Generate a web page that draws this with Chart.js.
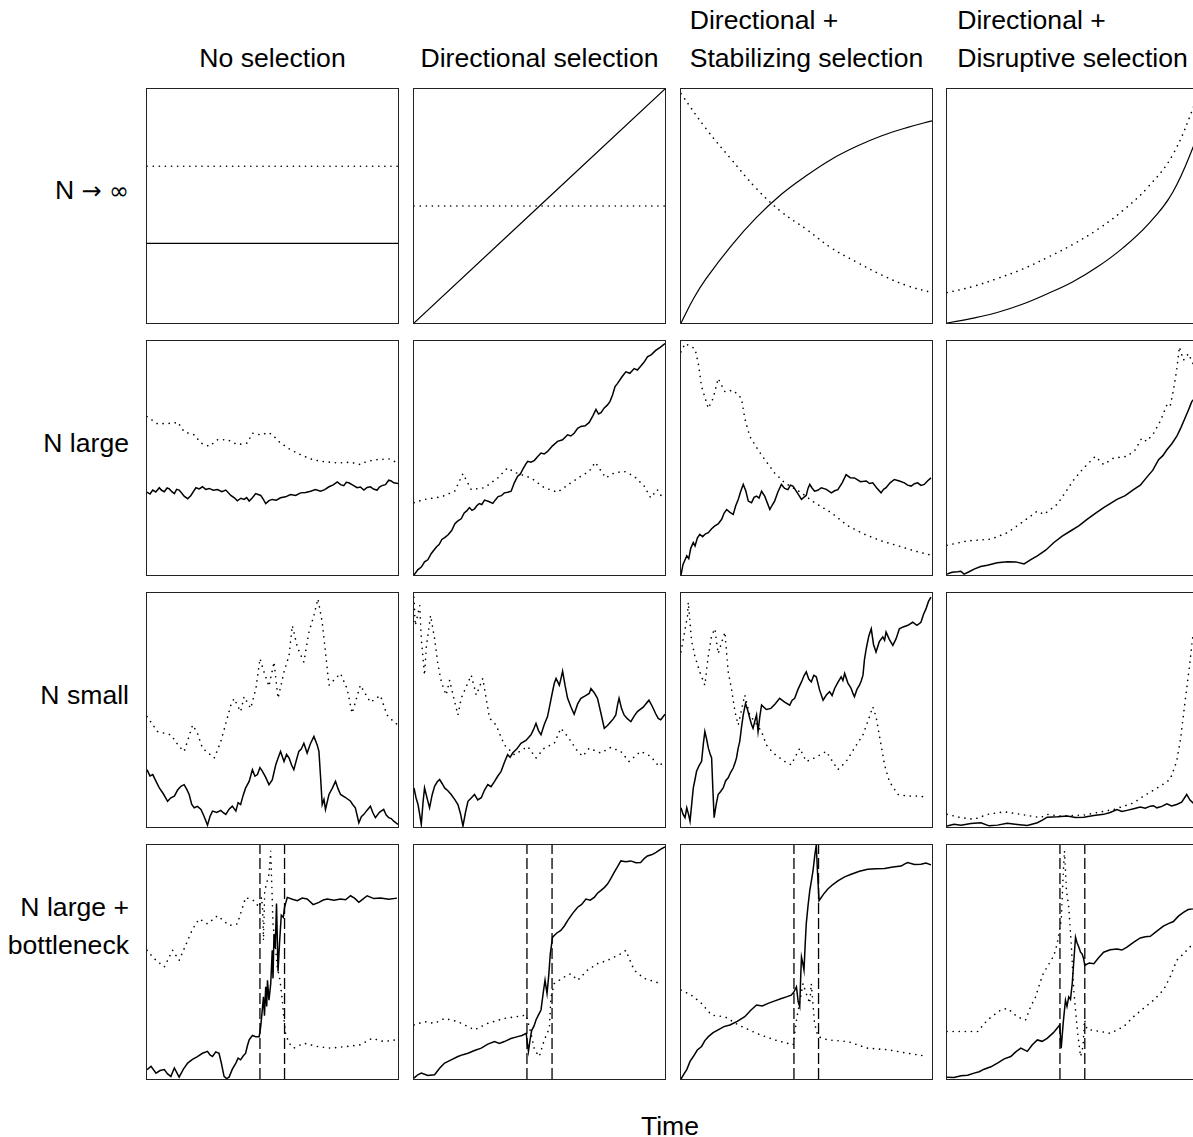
<!DOCTYPE html>
<html>
<head>
<meta charset="utf-8">
<script src="https://cdn.jsdelivr.net/npm/chart.js@4.4.1/dist/chart.umd.min.js"></script>
<style>
  body { margin: 0; width: 1193px; height: 1137px; overflow: hidden; background: #fff; position: relative;
         font-family: "Liberation Sans", Arial, Helvetica, sans-serif; color: #000; }
  .panel { position: absolute; box-sizing: border-box; border: 1px solid #222; width: 253px; height: 236px; }
  .panel canvas { display: block; }
  .txt { position: absolute; font-size: 26.6px; line-height: 38px; white-space: nowrap; }
  .sym { font-family: "DejaVu Sans", sans-serif; font-size: 24px; }
</style>
</head>
<body>
<script>
// values: x = time (0-100), y = relative trait value (0-100); solid = mean, dotted = variance
const colTitles = [['No selection'], ['Directional selection'], ['Directional +', 'Stabilizing selection'], ['Directional +', 'Disruptive selection']];
const rowTitles = [['N <span class="sym">\u2192</span> <span class="sym">\u221e</span>'], ['N large'], ['N small'], ['N large +', 'bottleneck']];
const rowTitleCenter = [190, 443, 695, 926];
const xLabel = 'Time';

// row 1: N -> infinity
const inf_none_solid = [[0,34],[100,34]];
const inf_none_dot = [[0,67],[100,67]];
const inf_dir_solid = [[0,0],[100,100]];
const inf_dir_dot = [[0,50],[100,50]];
const inf_stab_solid = [[0,0],[5,10.5],[10,19],[20,33],[30,45],[40,55],[50,63],[60,70],[70,75.5],[80,80],[90,83.5],[100,86.4]];
const inf_stab_dot = [[0,98],[10,83],[20,70],[30,57.5],[40,47.5],[50,40],[60,32],[70,26],[80,20.5],[90,16],[100,13]];
const inf_disr_solid = [[0,0],[10,2],[20,4.5],[30,8],[40,12.5],[50,17.5],[60,24],[70,32],[80,42],[90,56],[100,80]];
const inf_disr_dot = [[0,13],[10,15.5],[20,19],[30,23],[40,28],[50,33.5],[60,40],[70,48],[80,58],[90,72],[100,97]];

// row 2: N large
const large_none_solid = [[0,35.4],[1.2,34.6],[2.3,36.3],[3.5,35.5],[4.9,37.3],[5.8,36.2],[6.9,35.6],[8,37.2],[8.9,36.8],[9.9,35.6],[10.9,34.8],[11.8,36.6],[12.8,36.3],[13.8,35],[14.8,33.7],[16.2,32.6],[17.5,34],[18.4,35.5],[19.5,37.3],[20.8,36.8],[22.1,37.7],[23.4,36.6],[24.8,37],[26.4,36.2],[28.1,36.5],[29.8,35.6],[31.4,36.3],[33.4,34],[34.8,33],[36,31.7],[37.4,32.8],[38.7,32.3],[39.7,33.1],[40.7,31.6],[42,33],[43.3,34.8],[45.3,34],[46.3,32.4],[47.3,30.5],[48.6,31.8],[49.9,32.3],[51.5,32],[53.2,33],[55.2,33.4],[57.2,34.4],[59.2,34],[61.2,35.1],[63.2,35.3],[65.2,35.8],[67.1,36.5],[69.1,35.8],[70.8,36.5],[72.5,37.7],[74.2,38.5],[75.8,39.8],[77.1,38.6],[78.4,38.2],[79.4,39.6],[80.4,39.4],[82,38.4],[83.7,37.3],[85,37.6],[86.4,36.3],[87.7,37.4],[89,37.7],[90.4,36.6],[91.7,36.3],[92.6,37.6],[93.6,38.2],[95,38.6],[96.3,40.5],[97.3,40.2],[98.3,39.4],[100,39.1]];
const large_none_dot = [[0,67.7],[4.2,64.6],[10.9,64.9],[12.2,65.4],[14.8,61.2],[18.8,59.9],[21.5,56.4],[24.8,55],[28.1,57.8],[32.1,57.8],[36,55.7],[40,56.4],[42,60.6],[45.3,59.9],[48.6,60.9],[50.6,59.2],[53.2,56.4],[57.2,53.5],[61.2,51.4],[65.2,49.6],[69.1,48.6],[75.8,47.9],[81.1,48.2],[85,47.2],[87.7,48.6],[91.7,49.3],[96.9,49.6],[99.6,47.9]];
const large_dir_solid = [[0,0],[1.5,2.2],[3,3.5],[4.2,5.6],[5.5,6.5],[6.9,9.2],[8.2,11],[9.1,12.2],[10,13],[11.1,15.2],[12.2,16],[13.6,17.2],[15,19],[16.3,21.9],[17.5,23.1],[18.8,24],[20,26.5],[21,27.4],[22.1,28.8],[23.1,27.6],[24.1,28.2],[25,29.6],[26,30.5],[27,30.1],[28.1,32],[29.8,31.4],[31.4,30.6],[32.5,32.2],[33.5,33.5],[34.8,33.9],[36,35.1],[37.4,35.4],[38.7,35.8],[40,39.5],[41.3,42.2],[42.4,43.2],[43.5,45.5],[44.4,47.2],[45.3,48.6],[46.6,48.2],[48,49],[49.3,50.6],[50.6,52.1],[51.9,51.7],[53.2,52.8],[55.2,55.2],[57.2,57.1],[59.2,57.8],[61.2,59.9],[62.5,59.4],[63.8,60.6],[65.2,62.7],[66.5,63.5],[68.2,63.8],[69.8,65.2],[71.2,67.9],[72.5,70.8],[73.5,68.8],[74.5,69.4],[75.8,71.4],[77.1,72.7],[78.1,74.2],[79.1,76.9],[80.1,80.5],[81.1,81.9],[82.8,84.6],[84.4,86.8],[86,86.2],[87.7,88.2],[89,87.6],[90.3,89.2],[91.7,91],[93,93.2],[94.6,94.2],[96.3,96],[98.1,97.3],[100,98.9]];
const large_dir_dot = [[0,30.9],[4.2,32.3],[10.9,33.4],[16.2,35.8],[19.5,43.3],[22.8,36.5],[28.1,37.3],[33.4,41.5],[37.3,45.8],[40,43.9],[46.6,41.5],[51.9,37.3],[57.2,35.4],[62.5,39.4],[66.5,42.2],[69.8,44.3],[72.2,48.2],[76.4,41.5],[79.7,43.6],[83.7,44.3],[87.7,42.2],[91.7,38],[94.3,33],[96.9,36.5],[99.6,32]];
const large_stab_solid = [[0,0],[0.8,4.5],[1.5,6.2],[2.3,8.2],[3.1,7],[3.9,11.5],[4.9,13.9],[5.6,12.4],[6.5,15.8],[7.5,17.4],[8.6,16.4],[9.8,17.6],[10.9,18.1],[12.2,19.8],[13.5,21],[14.8,21.8],[16.2,23.8],[17.2,26.5],[18.2,28],[19.5,26.8],[20.8,25.9],[21.8,29.6],[22.8,32.3],[23.8,35.8],[24.8,38.7],[25.8,36],[26.8,31.6],[28.1,30.9],[29.1,33.2],[30.1,33.7],[31.1,32.9],[32.1,35.8],[33.4,33.6],[35.4,28],[36.3,29.8],[37.3,31.6],[38.6,35.5],[40,38.7],[41.3,37],[42.6,36.5],[43.6,38.4],[44.6,38],[46.3,35.2],[48,32.3],[49.9,34],[50.6,37],[51.3,38.7],[52.2,37.2],[53.2,35.8],[54.5,36.2],[55.9,37.3],[57.9,36.6],[59.9,35.1],[61.2,36],[62.5,36.5],[64.2,39.4],[65.8,42.9],[67.4,41.6],[69.1,41.5],[71.5,39.9],[73.8,40.2],[75.1,39.1],[76.4,39.4],[78,37.2],[79.7,35.1],[80.7,36.6],[81.7,37.3],[83.3,39.4],[85,40.8],[87,40.2],[89,39.4],[90.3,38.4],[91.7,38],[93,39],[94.3,39.4],[95.6,38.3],[96.9,38.7],[98.3,40.3],[99.6,41.5]];
const large_stab_dot = [[0,95.3],[1.6,98.9],[5.6,96.7],[6.9,90.4],[8.2,80.5],[10.9,71.2],[12.8,75.5],[14.8,84],[17.5,78.3],[20.8,79],[24.1,75.5],[25.4,67],[27.4,59.2],[30.7,53.5],[33.4,49.3],[37.3,43.6],[41.3,39.4],[48,35.1],[53.2,30.9],[59.9,26.6],[66.5,21],[73.1,17.4],[79.7,14.6],[86.4,12.5],[93,10.3],[99.6,8.5]];
const large_disr_solid = [[0,0.4],[2,1.2],[4.2,1.4],[5.5,1.6],[6.8,0.4],[8.8,1.4],[10.8,2.5],[13.4,3.6],[16.1,4.2],[20,5.2],[24.1,5.7],[27.4,5.6],[30.7,4.7],[33.4,6.6],[36,8.2],[39.3,10.6],[42.6,13.9],[45.9,16.6],[49.2,18.8],[52.5,21],[55.8,23.8],[59.1,26.3],[62.4,28.8],[65,30.5],[67.7,32.3],[71,33.9],[74.3,36.5],[77,38.4],[79.4,41.5],[82,44.8],[84.3,49.3],[86,51],[87.6,53.5],[89.5,56],[91.5,59.2],[93.2,63],[94.8,67],[96.2,70.5],[97.5,74.1],[100,77]];
const large_disr_dot = [[0,12.7],[8.2,14.6],[17.5,15.3],[24.1,18.1],[30.7,23.1],[36,27.3],[38.6,25.9],[43.9,30.2],[47.9,36.5],[50.5,40.7],[54.5,45.8],[59.1,50.7],[62.4,47.2],[66.4,50],[71.7,50.7],[75,53.5],[77.6,58.5],[79.6,57.1],[82.3,60.6],[84.9,65.6],[87.6,72.7],[88.9,72],[90.2,79],[91.5,87.5],[92.6,97.5],[94.2,91.8],[96.2,94.6],[98,90.4],[100,92]];

// row 3: N small
const small_none_solid = [[0,24.5],[1.2,21.8],[2.3,22.4],[3.6,19.5],[4.9,16.7],[6.5,14.2],[8.2,11],[9.5,12.5],[10.9,13.2],[12.2,15.8],[13.5,17.4],[14.8,18.1],[15.8,16.2],[16.8,13.9],[17.8,9.8],[18.8,8.2],[20.1,8.8],[21.5,7.5],[22.8,4.4],[24.1,0.8],[25.1,4.5],[26.1,6.8],[27.8,6.2],[29.4,7.1],[30.4,6.1],[31.4,5.4],[32.7,7.6],[34,8.9],[35.4,6.8],[36.3,10.4],[37.3,9.6],[38.3,13.5],[39.3,16.7],[40.7,19.5],[42,24.5],[43,21.7],[44,22.4],[45,25.4],[46,23.8],[47.3,21.2],[48.6,18.1],[49.9,20.1],[51.3,26.6],[52.2,29.4],[53.2,32.3],[54.6,28],[55.6,31],[56.6,29.5],[57.6,26.5],[58.5,24.5],[59.5,28.5],[60.5,32.3],[61.5,33.4],[62.5,35.8],[63.8,31.6],[65.1,35.6],[66.5,38.7],[67.8,35.1],[68.5,32.3],[69.2,20.5],[69.8,9.6],[70.5,11.8],[71.1,7.5],[72.5,13.9],[73.8,16.5],[75.1,19.5],[76.1,16.4],[77.1,13.9],[79.1,12.6],[81.1,11],[82,9.5],[83,8.2],[84.4,1.8],[85.4,4.4],[86.4,5.4],[87.7,7.2],[89,8.9],[90,6.1],[91,4],[92.6,6.3],[94.3,7.5],[95.3,5.1],[96.3,4],[97.3,3.6],[98.3,2.5],[100,1.1]];
const small_none_dot = [[0,47.2],[4.2,40.8],[9.5,39.4],[12.8,34.4],[14.8,32.3],[18.2,43.6],[20.1,40.1],[22.1,33.7],[26.8,29.5],[29.4,36.5],[31.4,44.3],[33.4,52.1],[34.7,54.9],[37.3,49.3],[38.7,55.7],[41.3,50.7],[43.4,59.2],[45,72],[46.6,66.3],[48.6,60.1],[50.6,70.5],[52.2,55],[54.6,66.3],[56.6,73.4],[57.9,86.1],[59.9,76.9],[62.5,70.5],[64.5,83.3],[66.5,90.4],[68.1,97.5],[69.8,87.5],[71.1,74.8],[72.5,60.6],[75.1,63.5],[77.1,65.6],[79.7,59.2],[81.7,48.6],[85,60.6],[89,53.3],[93,56.2],[95.6,47.9],[98.3,45],[100,43.6]];
const small_dir_solid = [[0,16.7],[0.8,12.5],[1.6,9.6],[2.3,5.2],[2.9,1.1],[3.6,10.5],[4.2,16.7],[5.2,12.4],[6.2,8.2],[7.2,13.6],[8.2,17.4],[9.2,19.2],[10.2,20.3],[11.2,18.6],[12.2,16.7],[13.5,15.5],[14.8,13.9],[16.2,11.8],[17.5,9.6],[18.5,5.8],[19.5,0.4],[20.5,6.2],[21.5,11],[22.8,12.4],[24.1,13.9],[25.4,11.6],[26.8,12.5],[28.1,15.8],[29.4,18.1],[30.7,17.2],[32.1,19.5],[33.4,21.8],[34.7,23.8],[36,27.6],[37.3,30.9],[38.3,29.8],[39.3,31.6],[41,33.4],[42.6,35.8],[44.6,37],[46.6,39.4],[47.6,41.6],[48.6,44.3],[49.6,41.2],[50.6,39.4],[51.9,43.8],[53.2,47.2],[54.2,52.5],[55.2,57.9],[55.9,61.4],[56.6,63.5],[57.9,60.6],[58.5,63.2],[59.2,66.6],[60.2,60.4],[61.2,55],[62.5,51.4],[63.8,48.2],[65.2,52.6],[66.5,55],[68.2,56],[69.8,57.1],[70.5,59.2],[71.8,57.4],[73.1,55],[74.5,48.5],[75.8,42.2],[77.1,43.4],[78.4,45],[79.4,46.2],[80.4,47.9],[81.1,52.2],[81.7,55],[82.7,50.6],[83.7,47.9],[85,46.3],[86.4,45],[87.7,47.4],[89,49.3],[91.3,51.2],[93.6,54.2],[95,51.4],[96.3,48.4],[97.3,46.4],[98.3,45.8],[100,48.2]];
const small_dir_dot = [[0,98.2],[0.5,86.1],[2.3,94.6],[2.9,80.5],[4.2,64.9],[4.9,76.9],[6.6,90.4],[8.2,80.5],[9.5,69.8],[10.9,62],[12.8,56.4],[14.2,62.7],[16.2,53.5],[17.5,47.9],[18.8,55],[22.8,64.9],[24.8,56.4],[27.4,63.5],[30.1,46.5],[32.7,43.6],[36,35.1],[40,30.9],[45.3,34.4],[48.6,29.5],[51.9,33.7],[55.9,35.8],[58.5,42.2],[61.2,38.7],[65.2,32.3],[67.2,30.2],[69.8,33.7],[74.4,31.6],[78.4,34],[82.4,32.3],[85.7,28],[90.3,32.3],[94.3,30.2],[97.6,25.9],[99.6,28]];
const small_stab_solid = [[0,8.2],[0.8,5.5],[1.6,4],[2.3,8.2],[3,5.4],[3.6,2.5],[4.3,10.2],[4.9,16.7],[5.6,20.4],[6.2,23.8],[7.2,26.2],[8.2,28],[8.9,35.5],[9.5,40.8],[10.2,37.6],[10.9,33.7],[11.6,31.2],[12.2,29.5],[12.7,16],[13.2,4],[14,9.6],[14.8,13.9],[15.8,15.2],[16.8,16.7],[17.8,19.8],[18.8,21],[19.8,23.4],[20.8,25.2],[21.5,27.3],[22.1,29.5],[22.8,33.8],[23.4,36.5],[24.1,42.6],[24.8,47.9],[25.7,52.8],[26.6,49.8],[27.4,46.5],[28.1,43.8],[28.7,42.2],[29.4,45.2],[30.1,47.9],[30.7,40.8],[31.4,47.2],[32.1,52.1],[34,50.2],[35.8,50.7],[37.5,52.6],[39.3,55],[41.3,53.4],[43.3,52.1],[44.3,54.2],[45.3,55],[46.6,58.8],[48,62],[49,64.6],[49.9,66.3],[50.9,63.2],[51.9,62],[52.9,64.8],[53.9,64.2],[55.2,58.6],[56.6,54.2],[57.9,56.4],[59.2,57.8],[60.2,56.2],[61.2,59.2],[62.5,61.8],[63.8,64.2],[64.5,62.6],[65.2,65.6],[66.5,61.5],[67.8,59.2],[68.5,57.1],[69.1,55.7],[70.1,58.8],[71.1,60.6],[71.8,62.4],[72.5,64.9],[73.1,71.6],[73.8,76.2],[74.8,81.5],[75.8,84.7],[76.7,78],[77.7,74.8],[79,79.2],[80.4,81.2],[81.1,79.8],[81.7,83.3],[83,80.2],[84.4,77.6],[85.7,80.5],[87,84.7],[88.5,85.5],[90.4,86.2],[92.3,87.5],[94,86.2],[95.6,87.5],[96.6,90.8],[97.6,93.2],[98.6,96.4],[99.6,98.2]];
const small_stab_dot = [[0,74.8],[2.6,90.4],[2.9,96],[4.2,79.7],[5.6,72.7],[7.5,66.3],[9.5,60.6],[10.9,73.4],[12.2,81.9],[13.5,84.7],[14.8,74.1],[17.5,83.3],[18.8,66.3],[20.1,59.2],[21.5,49.3],[22.8,43.6],[25.4,56.4],[27.4,47.9],[32.1,40.8],[34,35.1],[36.7,31.6],[41.3,28],[43.9,26.6],[47.3,33.7],[49.9,28],[53.2,29.5],[57.9,32.3],[59.9,28.8],[62.5,24.5],[65.8,28],[69.1,33.7],[72.5,39.4],[75.1,47.2],[76.4,51.4],[77.7,47.2],[79.7,35.1],[81.1,26.6],[83,19.5],[86.4,13.9],[90.3,13.2],[95.6,13.2],[98.3,12.2]];
const small_disr_solid = [[0,0.4],[2.8,1.2],[5.6,0.8],[9.5,1.5],[13.5,1.8],[16.8,0.5],[20.1,0.8],[24,1.6],[28,1.1],[32,0.6],[36,1.8],[38,2.9],[39.9,4.2],[44,4.4],[47.9,4.7],[51.2,4.1],[54.5,4.2],[58.5,4.9],[62.4,5.4],[65,6.2],[67.7,7.5],[69.7,6.6],[71.7,7.1],[74.4,7.8],[77,8.5],[79,8],[81,8.9],[82.3,9.1],[83.6,8.2],[85.6,8.8],[87.6,9.9],[89.5,9],[91.5,9.6],[93.5,10.6],[95.5,13.9],[96.8,11.5],[98,10.3],[100,11]];
const small_disr_dot = [[0,5.4],[5.6,4],[10.8,3.3],[16.1,5.4],[22.8,6.5],[29.4,5.4],[37.3,4],[39.9,5.4],[45.2,4.7],[54.5,5.1],[66.4,7.5],[74.3,10.3],[78.3,13.2],[84.9,17.4],[88.9,20.3],[91.5,28],[93.1,38],[94.2,47.9],[95.5,59.2],[96.8,70.5],[97.8,80.5],[100,90]];

// row 4: N large + bottleneck
const bott_none_solid = [[0,4],[1.6,5.4],[3.6,2.5],[5.2,3.6],[6.9,4],[8.2,2.2],[9.5,1.1],[10.9,4.7],[12.8,0.8],[14.5,4.2],[16.2,6.8],[18.1,8.4],[20.1,9.6],[22.1,11],[24.1,11.8],[25.1,10.3],[26.1,9.6],[27.4,11.6],[28.7,11],[29.7,6.4],[30.7,1.1],[31.7,0.2],[32.7,0.8],[34,4.2],[35.4,6.8],[36.3,8.9],[37.3,8.2],[38.3,9.8],[39.3,11],[40,14.2],[40.7,16.7],[42,18.6],[43.3,18.1],[44.7,18.1],[45.3,22.4],[45.8,28],[46.4,35.1],[46.8,27],[47.3,39.4],[47.7,31],[48,42.2],[48.6,33.7],[49.3,40.8],[49.6,48],[49.9,55],[50.2,43],[50.6,62],[51.1,56],[51.6,75],[52.2,46],[52.8,58],[53.5,70],[54.3,69.1],[54.8,73.4],[55.9,77.6],[57.9,76.8],[59.9,76.2],[61.8,77.3],[63.8,76.9],[66.2,74.5],[68.5,75.5],[70.2,76.5],[71.8,76.9],[74.5,76.4],[77.1,76.9],[79.1,76.6],[81.1,78.3],[82.8,77.2],[84.4,75.5],[86,76.9],[87.7,78.3],[90.4,77.1],[93,77.3],[96.3,76.8],[99.6,77.3]];
const bott_none_dot = [[0,55],[2.9,51.4],[6.9,47.9],[10.2,55],[12.8,50.7],[16.2,59.2],[18.2,64.2],[20.8,68.4],[24.1,66.3],[28.1,69.8],[32.7,65.6],[36,66.3],[39.3,77.6],[42.6,76.2],[44.7,73.4],[45.6,77.6],[46.1,72.3],[46.4,59.2],[46.9,80.5],[48.6,87.5],[49.3,97.5],[49.5,90.4],[50.2,66.3],[51.3,55],[51.9,47.9],[53,42.2],[53.9,33.7],[54.6,25.2],[55.2,19.5],[56.6,15.3],[58.5,13.2],[62.5,15.3],[67.8,13.9],[73.1,13.2],[79.7,13.9],[85,14.6],[89.7,17.4],[94.3,16],[98.9,16.7]];
const bott_dir_solid = [[0,0.4],[1.5,1.8],[2.9,2.5],[5.5,1.5],[8.2,1.8],[10.2,4.6],[12.2,6.8],[14.8,8.2],[17.5,9.6],[19.5,10.4],[21.5,11],[24.1,12.2],[26.8,13.2],[29.4,14.9],[32.1,16],[34,15.2],[36,16],[38.6,17.3],[41.3,18.1],[43,18.6],[44.7,19.5],[45.2,15],[45.6,11.8],[46.3,17.2],[46.9,20.8],[47.8,22.6],[48.6,25.2],[49.6,27.4],[50.6,29.5],[51.4,36.2],[52.2,42.2],[53,36.5],[53.7,44.5],[54.3,53.5],[55.2,60.6],[56.9,62.4],[58.5,63.5],[59.9,65.4],[61.2,67.7],[63.2,70.8],[65.2,73.4],[66.8,74.6],[68.5,76.9],[70.2,76.4],[71.8,77.6],[73.1,79.4],[74.4,80.5],[75.8,81.8],[77.1,83.3],[78.4,85.6],[79.7,88.2],[81.1,90.8],[82.4,93.2],[84.4,92.8],[86.4,93.2],[88.4,92.4],[90.3,92.5],[91.7,94.2],[93,95.3],[94.6,95.8],[96.3,96.7],[98.2,98.1],[100,99.2]];
const bott_dir_dot = [[0,23.1],[4.2,24.5],[8.2,23.8],[12.2,25.9],[17.5,24.5],[24.1,21],[29.4,23.8],[36,25.9],[44.7,27.3],[46.6,19.5],[48,12.5],[49.9,9.6],[51.9,16.7],[53.9,21.7],[54.6,35.1],[55.9,40.8],[59.9,43.6],[62.5,45],[65.2,42.2],[69.1,46.5],[73.1,49.3],[77.1,50.7],[82.4,53.5],[84.4,55],[87.7,46.5],[91.7,43],[98.3,40.8]];
const bott_stab_solid = [[0,0],[1.2,2.2],[2.3,4],[3.6,7.5],[4.9,9.6],[6.5,12.4],[8.2,13.9],[9.5,16.4],[10.9,18.1],[12.8,19.8],[14.8,21],[17.1,22.4],[19.5,23.1],[22.4,24.6],[25.4,26.6],[27.8,29.4],[30.1,31.6],[32.4,31.2],[34.7,32.3],[37.4,33.4],[40,34.4],[42,35.1],[43.9,35.8],[45,37.2],[46,39.4],[46.7,33],[47.3,30.9],[47.7,44],[48,52.1],[48.5,49.6],[49,46.5],[49.5,58],[49.9,66.3],[50.6,74],[51.3,80.5],[52,85],[52.6,89],[53.3,95.6],[53.9,100],[54.4,88],[55,76.2],[56.8,79],[58.5,81.2],[60.5,83.1],[62.5,84.7],[65.2,86.4],[67.8,87.5],[71.1,88.8],[74.4,89.6],[77.8,89.8],[81.1,90],[84.4,90.6],[87.7,91],[89,91.8],[90.3,92.5],[93,91.7],[95.6,91.8],[97.6,92.3],[99.6,91.5]];
const bott_stab_dot = [[0,38],[4.2,35.8],[8.2,32.3],[12.2,27.3],[17.5,26.6],[22.8,23.1],[30.1,19.5],[37.3,16.7],[44.7,14.6],[46,25.2],[48.6,40.8],[49.9,36.5],[51.3,32.3],[51.9,40.8],[53.2,23.8],[54.6,18.1],[58.5,16.7],[66.5,16],[74.2,13.2],[82.4,12.5],[90.3,11],[96.9,9.9]];
const bott_disr_solid = [[0,0.8],[2.8,0.6],[5.6,1.4],[8.2,1.6],[10.8,2.5],[12.8,3.1],[14.8,4.2],[17.5,5.2],[20.1,6.8],[22.8,8.6],[25.4,9.6],[27.4,11.6],[29.4,13.2],[32,11.8],[34,14.6],[36,16.7],[37.9,16.1],[39.9,17.4],[42.4,19.8],[44.9,23.1],[45.2,18],[45.5,13.2],[46.3,24],[47.2,33.7],[47.8,31],[48.5,35.1],[49.2,34],[49.9,40.8],[50.5,50],[51.2,60.6],[51.8,58.2],[52.5,56.4],[53.2,54.2],[53.8,53.5],[54.4,51.6],[54.9,48.6],[56.7,49.6],[58.5,49.3],[60.4,51.8],[62.4,54.2],[65,55.2],[67.7,55.6],[69.7,55.1],[71.7,56.4],[74.3,58.4],[77,60.3],[79,60.8],[81,61],[83.6,63.2],[86.2,65.3],[88.2,66.4],[90.2,67.3],[92.2,69.6],[94.2,71.2],[96.1,72.4],[98,72.7],[100,73.4]];
const bott_disr_dot = [[0,20.3],[5.6,20.3],[12.2,20.3],[16.1,25.2],[21.4,29.5],[24.1,30.2],[28,26.6],[31.3,25.2],[33.3,30.9],[35.3,35.1],[38,44.3],[39.9,47.9],[42.6,52.8],[43.9,57.8],[45.5,67.7],[46.3,87.5],[46.8,97.5],[47.6,80.5],[48.5,73.4],[49.5,57.8],[50.5,38],[51.9,21.2],[53.2,9.6],[54.2,13.9],[54.8,25.2],[55.8,21.2],[61.1,20.3],[65.1,19.5],[70.4,22.4],[74.3,26.6],[78.3,30.2],[82.3,33.7],[86.2,38],[88.9,43.6],[91.5,50.7],[94.2,53.5],[98,57.8],[100,59.2]];

// bottleneck start / end times per column (row 4)
const bottleneckStart = [45, 45, 45, 45];
const bottleneckEnd = [54.8, 55, 54.8, 54.9];

const grid = [
  [[inf_none_solid, inf_none_dot], [inf_dir_solid, inf_dir_dot], [inf_stab_solid, inf_stab_dot], [inf_disr_solid, inf_disr_dot]],
  [[large_none_solid, large_none_dot], [large_dir_solid, large_dir_dot], [large_stab_solid, large_stab_dot], [large_disr_solid, large_disr_dot]],
  [[small_none_solid, small_none_dot], [small_dir_solid, small_dir_dot], [small_stab_solid, small_stab_dot], [small_disr_solid, small_disr_dot]],
  [[bott_none_solid, bott_none_dot], [bott_dir_solid, bott_dir_dot], [bott_stab_solid, bott_stab_dot], [bott_disr_solid, bott_disr_dot]]
];

// layout
const colLeft = [146, 413, 680, 946];
const rowTop = [88, 340, 592, 844];
const PW = 253, PH = 236;

function addText(lines, left, top, width, align) {
  const d = document.createElement('div');
  d.className = 'txt';
  d.style.left = left + 'px';
  d.style.top = top + 'px';
  d.style.width = width + 'px';
  d.style.textAlign = align;
  const s = document.createElement('span');
  s.style.display = 'inline-block';
  s.style.textAlign = 'left';
  s.innerHTML = lines.join('<br>');
  d.appendChild(s);
  document.body.appendChild(d);
}

colTitles.forEach((t, c) => {
  const top = t.length === 1 ? 39 : 1;
  addText(t, colLeft[c] - 40, top, PW + 80, 'center');
});
rowTitles.forEach((t, r) => {
  const d = document.createElement('div');
  d.className = 'txt';
  d.style.right = (1193 - 129) + 'px';
  d.style.top = (rowTitleCenter[r] - 19 * t.length) + 'px';
  d.style.textAlign = 'right';
  d.innerHTML = t.join('<br>');
  document.body.appendChild(d);
});
addText([xLabel], 570, 1107, 200, 'center');

const toXY = pts => pts.map(p => ({ x: p[0], y: p[1] }));

grid.forEach((row, r) => {
  row.forEach((cell, c) => {
    const box = document.createElement('div');
    box.className = 'panel';
    box.style.left = colLeft[c] + 'px';
    box.style.top = rowTop[r] + 'px';
    const cv = document.createElement('canvas');
    cv.width = PW - 2;
    cv.height = PH - 2;
    box.appendChild(cv);
    document.body.appendChild(box);

    const smooth = r === 0;
    const datasets = [
      {
        data: toXY(cell[1]),
        borderColor: '#000',
        borderWidth: 1.6,
        borderDash: [0.1, 6],
        borderCapStyle: 'round',
        tension: smooth ? 0.4 : 0
      },
      {
        data: toXY(cell[0]),
        borderColor: '#000',
        borderWidth: smooth ? 1.2 : 1.5,
        tension: smooth ? 0.4 : 0
      }
    ];
    if (r === 3) {
      [bottleneckStart[c], bottleneckEnd[c]].forEach(t => {
        datasets.push({
          data: [{ x: t, y: 0 }, { x: t, y: 100 }],
          borderColor: '#000',
          borderWidth: 1.3,
          borderDash: [11, 4]
        });
      });
    }

    new Chart(cv, {
      type: 'line',
      data: { datasets: datasets },
      options: {
        responsive: false,
        animation: false,
        layout: { padding: 0 },
        elements: { point: { radius: 0 }, line: { fill: false } },
        plugins: { legend: { display: false }, tooltip: { enabled: false } },
        scales: {
          x: { type: 'linear', min: 0, max: 100, display: false },
          y: { min: 0, max: 100, display: false }
        }
      }
    });
  });
});
</script>
</body>
</html>
